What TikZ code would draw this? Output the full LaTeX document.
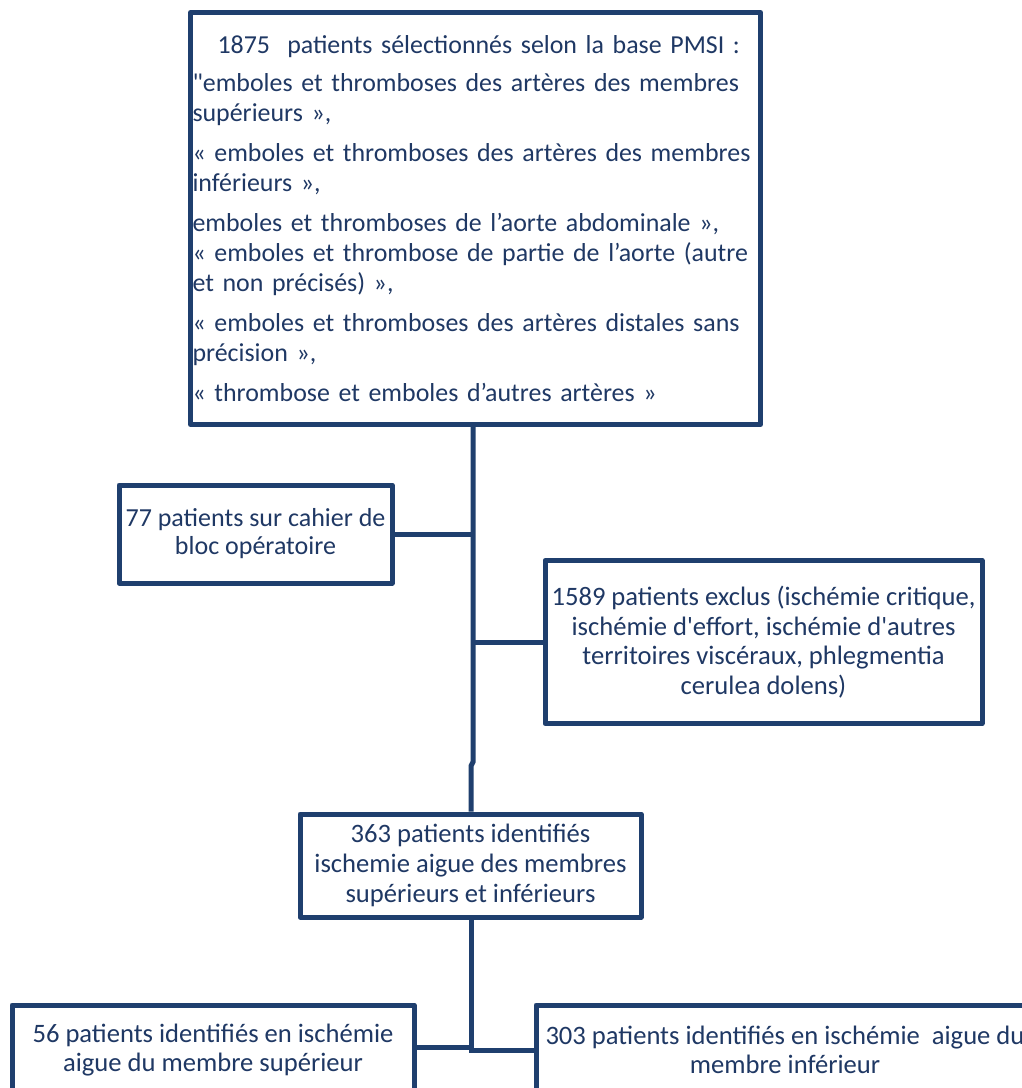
\documentclass[tikz,border=0pt]{standalone}
\usepackage{fontspec}
\setmainfont{Carlito}
\definecolor{linecol}{RGB}{31,63,110}
\definecolor{txtcol}{RGB}{31,56,100}
\begin{document}
\begin{tikzpicture}[x=1pt,y=-1pt,
  box/.style={draw=linecol, line width=5pt, line join=round, text=txtcol,
    font=\fontsize{26.6}{29.5}\selectfont, align=center, inner sep=0pt},
  conn/.style={draw=linecol, line width=5pt}]
\useasboundingbox (0,0) rectangle (1022,1088);
\clip (0,0) rectangle (1022,1088);
\fill[white] (0,0) rectangle (1022,1088);

\node[box, align=left, text width=566pt, minimum width=570pt, minimum height=412pt,
  font=\fontsize{25.9}{30}\selectfont, anchor=north west] (sel) at (188,10)
{\mbox{\hspace*{25pt}1875\ \ patients sélectionnés selon la base PMSI :}\\[8pt]
\mbox{\textquotedbl emboles et thromboses des artères des membres}\\
\mbox{supérieurs »,}\\[10pt]
\mbox{« emboles et thromboses des artères des membres}\\
\mbox{inférieurs »,}\\[10pt]
\mbox{emboles et thromboses de l’aorte abdominale »,}\\
\mbox{« emboles et thrombose de partie de l’aorte (autre}\\
\mbox{et non précisés) »,}\\[10pt]
\mbox{« emboles et thromboses des artères distales sans}\\
\mbox{précision »,}\\[10pt]
\mbox{« thrombose et emboles d’autres artères »}};

\node[box, minimum width=273pt, minimum height=98pt, font=\fontsize{26}{28}\selectfont] (bloc) at (255.5,534)
{77 patients sur cahier de\\bloc opératoire};
\node[box, minimum width=437pt, minimum height=163pt] (excl) at (763.5,642)
{1589 patients exclus (ischémie critique,\\ischémie d\textquotesingle effort, ischémie d\textquotesingle autres\\territoires viscéraux, phlegmentia\\cerulea dolens)};
\node[box, minimum width=341pt, minimum height=103pt, font=\fontsize{26.6}{30}\selectfont] (ident) at (470.5,865.5)
{363 patients identifiés\\ischemie aigue des membres\\supérieurs et inférieurs};
\node[box, minimum width=402pt, minimum height=90pt] (sup) at (213,1050)
{56 patients identifiés en ischémie\\aigue du membre supérieur};
\node[box, minimum width=498pt, minimum height=90pt] (inf) at (785,1050)
{303 patients identifiés en ischémie\ \ aigue du\\membre inférieur};

\coordinate (t1) at (473,762);
\coordinate (t2) at (471,766);
\coordinate (b1) at (471,1050);
\coordinate (b2) at (471,1047);
\draw[conn] (sel.south -| t1) -- (t1) -- (t2) -- (ident.north -| t2);
\draw[conn] (bloc.east) -- (bloc.east -| t1);
\draw[conn] (excl.west -| t1) -- (excl.west);
\draw[conn] (ident.south -| b1) -- (b1) -- (inf.west);
\draw[conn] (sup.east |- b2) -- (b2);
\end{tikzpicture}
\end{document}
